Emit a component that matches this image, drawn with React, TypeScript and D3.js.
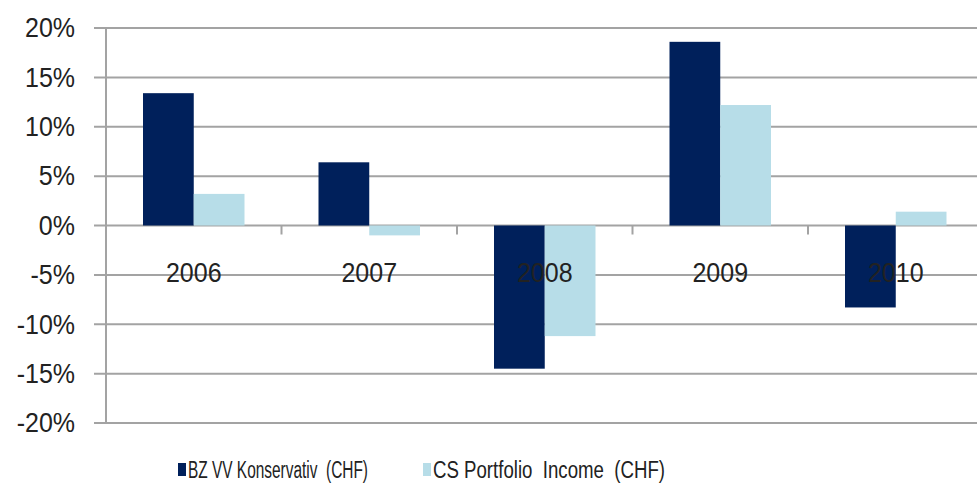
import React from "react";
import * as d3 from "d3";

const years = ["2006", "2007", "2008", "2009", "2010"];
const seriesNames = ["BZ VV Konservativ  (CHF)", "CS Portfolio  Income  (CHF)"];
const bzValues = [13.4, 6.4, -14.5, 18.6, -8.3];
const csValues = [3.2, -1.0, -11.2, 12.2, 1.4];
const yTicks = [20, 15, 10, 5, 0, -5, -10, -15, -20];
const colors = ["#00205B", "#B7DDE8"];

const W = 977;
const H = 490;

export default function App() {
  const axisX = 106;
  const bandW = 175.5;
  const x = d3
    .scaleBand<string>()
    .domain(years)
    .range([axisX, axisX + bandW * years.length])
    .paddingInner(0)
    .paddingOuter(0);
  const xs = d3.scaleBand<number>().domain([0, 1]).range([37, bandW - 37]);
  const y = d3.scaleLinear().domain([-20, 20]).range([423, 28]);
  const series = [bzValues, csValues];
  const font = "'Liberation Sans', Arial, sans-serif";
  const grid = "#A3A3A3";

  return (
    <svg
      width={W}
      height={H}
      style={{ position: "absolute", left: 0, top: 0, background: "#fff" }}
    >
      {yTicks.map((t) => (
        <g key={t}>
          <line x1={94} x2={W} y1={y(t)} y2={y(t)} stroke={grid} strokeWidth={2} />
          <text
            x={75}
            y={y(t)}
            textAnchor="end"
            dominantBaseline="central"
            fontFamily={font}
            fontSize={25}
            fill="#222"
            transform={`translate(0 ${y(t)}) scale(1 1.08) translate(0 ${-y(t)})`}
          >
            {t}%
          </text>
        </g>
      ))}
      <line x1={axisX} x2={axisX} y1={y(20)} y2={y(-20)} stroke={grid} strokeWidth={2} />
      {years.map((yr, i) =>
        i > 0 ? (
          <line
            key={"tk" + yr}
            x1={x(yr)!}
            x2={x(yr)!}
            y1={y(0)}
            y2={y(0) + 9}
            stroke={grid}
            strokeWidth={2}
          />
        ) : null
      )}
      {series.map((vals, si) =>
        vals.map((v, i) => {
          const bx = x(years[i])! + xs(si)!;
          const top = y(Math.max(0, v));
          const bot = y(Math.min(0, v));
          return (
            <rect
              key={si + "-" + i}
              x={bx}
              y={top}
              width={xs.bandwidth()}
              height={bot - top}
              fill={colors[si]}
            />
          );
        })
      )}
      {years.map((yr) => {
        const cy = y(-5) - 2;
        return (
          <text
            key={"l" + yr}
            x={x(yr)! + bandW / 2}
            y={cy}
            textAnchor="middle"
            dominantBaseline="central"
            fontFamily={font}
            fontSize={25}
            fill="#222"
            transform={`translate(0 ${cy}) scale(1 1.08) translate(0 ${-cy})`}
          >
            {yr}
          </text>
        );
      })}
      <g>
        <rect x={178} y={463} width={8} height={13} fill={colors[0]} />
        <text
          x={188}
          y={470}
          dominantBaseline="central"
          fontFamily={font}
          fontSize={23}
          fill="#222"
          textLength={180}
          lengthAdjust="spacingAndGlyphs"
          xmlSpace="preserve"
          style={{ whiteSpace: "pre" }}
        >
          {seriesNames[0]}
        </text>
        <rect x={423} y={463} width={8} height={13} fill={colors[1]} />
        <text
          x={433}
          y={470}
          dominantBaseline="central"
          fontFamily={font}
          fontSize={23}
          fill="#222"
          textLength={232}
          lengthAdjust="spacingAndGlyphs"
          xmlSpace="preserve"
          style={{ whiteSpace: "pre" }}
        >
          {seriesNames[1]}
        </text>
      </g>
    </svg>
  );
}
